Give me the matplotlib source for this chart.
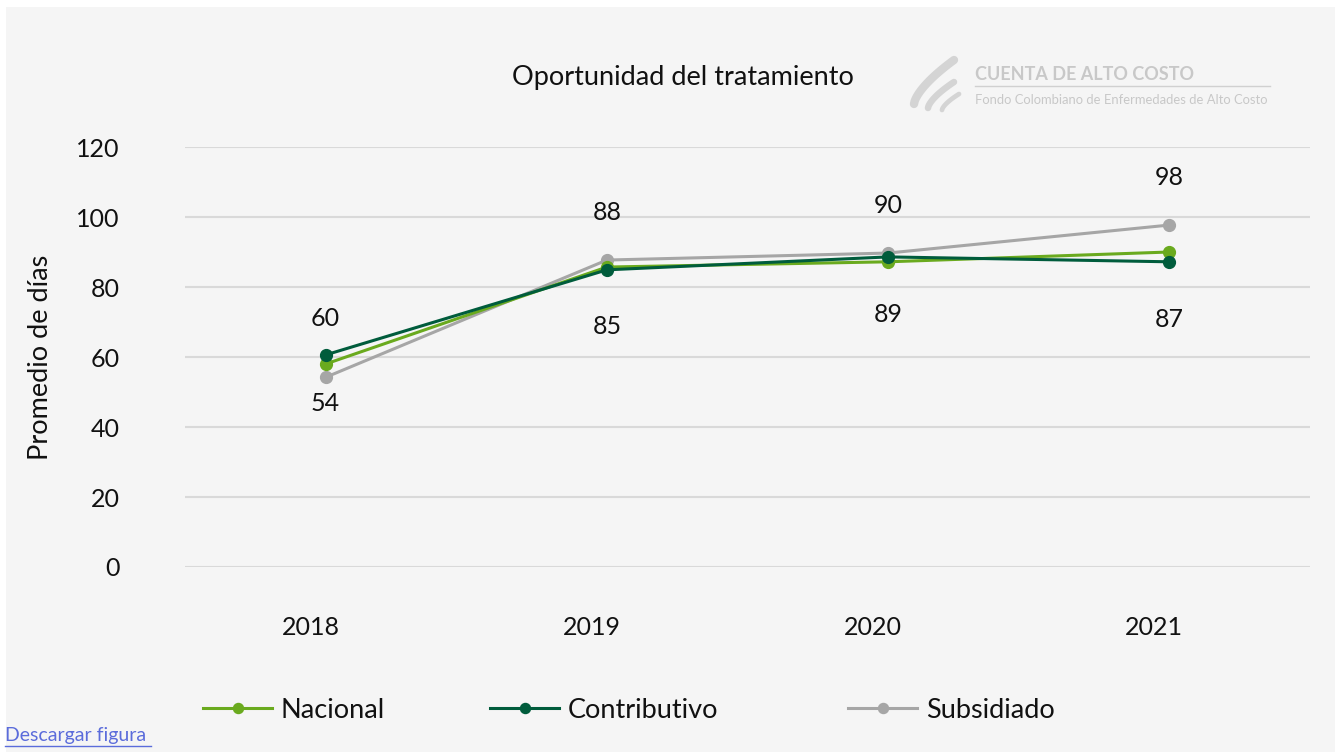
import matplotlib
matplotlib.use("Agg")
import matplotlib.pyplot as plt
from matplotlib.patches import Rectangle
from matplotlib.lines import Line2D
import numpy as np

years = ["2018", "2019", "2020", "2021"]
nacional = [58.0, 85.7, 87.2, 90.0]
contributivo = [60.6, 84.9, 88.6, 87.2]
subsidiado = [54.2, 87.7, 89.7, 97.7]
contrib_labels = ["60", "85", "89", "87"]
subs_labels = ["54", "88", "90", "98"]
yticks = [0, 20, 40, 60, 80, 100, 120]

plt.rcParams['font.family'] = ['Lato', 'DejaVu Sans']

W, H = 1335, 752
fig = plt.figure(figsize=(W / 100, H / 100), dpi=100, facecolor="white")
bg = "#f5f5f5"
fig.patches.append(Rectangle((6 / W, 0), 1 - 6 / W, 1 - 7 / H, transform=fig.transFigure,
                             facecolor=bg, edgecolor="none", zorder=-10))

ax = fig.add_axes([185 / W, 1 - 567 / H, (1310 - 185) / W, (567 - 147) / H])
ax.set_facecolor(bg)
ax.patch.set_alpha(0)

x = np.arange(len(years))
c_nac = "#6aaa1e"
c_con = "#005c3c"
c_sub = "#a6a6a6"

h_sub, = ax.plot(x, subsidiado, color=c_sub, lw=2.2, marker="o", ms=8.5, label="Subsidiado", zorder=3)
h_nac, = ax.plot(x, nacional, color=c_nac, lw=2.2, marker="o", ms=8.5, label="Nacional", zorder=4)
h_con, = ax.plot(x, contributivo, color=c_con, lw=2.2, marker="o", ms=8.5, label="Contributivo", zorder=5)

ax.set_xlim(-0.5, 3.5)
ax.set_ylim(0, 120)
ax.set_yticks(yticks)
ax.set_yticklabels([str(v) for v in yticks], fontsize=18, color="#111111")
# category labels, shifted slightly left as in the original
shift = -15 / 281
ax.set_xticks(x + shift)
ax.set_xticklabels(years, fontsize=18, color="#111111")
ax.tick_params(axis="both", length=0)
ax.tick_params(axis="x", pad=35.5)
ax.tick_params(axis="y", pad=47)
ax.grid(axis="y", color="#d9d9d9", lw=1.5)
ax.set_axisbelow(True)
for s in ax.spines.values():
    s.set_visible(False)

ax.set_ylabel("Promedio de días", fontsize=19.5, color="#111111", labelpad=17)

# data labels (offsets in pixels -> points)
above_off = [36, 48, 48, 48]
below_off = [26, 57, 58, 58]
for i in range(len(years)):
    c, s = contributivo[i], subsidiado[i]
    if c > s:
        above, above_lab, below, below_lab = c, contrib_labels[i], s, subs_labels[i]
    else:
        above, above_lab, below, below_lab = s, subs_labels[i], c, contrib_labels[i]
    ax.annotate(above_lab, (x[i], above), xytext=(0, above_off[i] * 0.72), textcoords="offset points",
                ha="center", va="center", fontsize=18, color="#111111")
    ax.annotate(below_lab, (x[i], below), xytext=(0, -below_off[i] * 0.72), textcoords="offset points",
                ha="center", va="center", fontsize=18, color="#111111")

# title
fig.text(683 / W, 1 - 78 / H, "Oportunidad del tratamiento", ha="center", va="center",
         fontsize=19.5, color="#111111")

# logo
fig.text(975 / W, 1 - 74 / H, "CUENTA DE ALTO COSTO", ha="left", va="center",
         fontsize=13, fontweight="bold", color="#c8c8c8")
fig.add_artist(Line2D([975 / W, 1270 / W], [1 - 86 / H, 1 - 86 / H],
                      transform=fig.transFigure, color="#d0d0d0", lw=1))
fig.text(975 / W, 1 - 100 / H, "Fondo Colombiano de Enfermedades de Alto Costo", ha="left",
         va="center", fontsize=9.4, color="#c8c8c8")
t = np.linspace(0, 1, 30)
for k, (x0, y0, dx, dy) in enumerate([(914, 104, 40, 44), (928, 108, 26, 26), (942, 110, 17, 16)]):
    xs = x0 + dx * t ** 1.2
    ys = y0 - dy * t ** 0.8
    fig.add_artist(Line2D(xs / W, 1 - ys / H, transform=fig.transFigure,
                          color="#d4d4d4", lw=6 - 1.3 * k, solid_capstyle="round"))

# legend: three entries positioned like the original
for h, lab, xl in [(h_nac, "Nacional", 203), (h_con, "Contributivo", 490), (h_sub, "Subsidiado", 848)]:
    leg = fig.legend([h], [lab], loc="center left", bbox_to_anchor=(xl / W, 1 - 710 / H),
                     frameon=False, fontsize=19.5, handlelength=2.55, handletextpad=0.33,
                     borderpad=0, borderaxespad=0, markerscale=0.85)
    for txt in leg.get_texts():
        txt.set_color("#111111")

# link
fig.text(5 / W, 1 - 736 / H, "Descargar figura", ha="left", va="center", fontsize=14,
         color="#5b6cdb")
fig.add_artist(Line2D([5 / W, 151 / W], [1 - 746 / H, 1 - 746 / H],
                      transform=fig.transFigure, color="#5b6cdb", lw=1))

fig.savefig("out.png", dpi=100, facecolor="white")
